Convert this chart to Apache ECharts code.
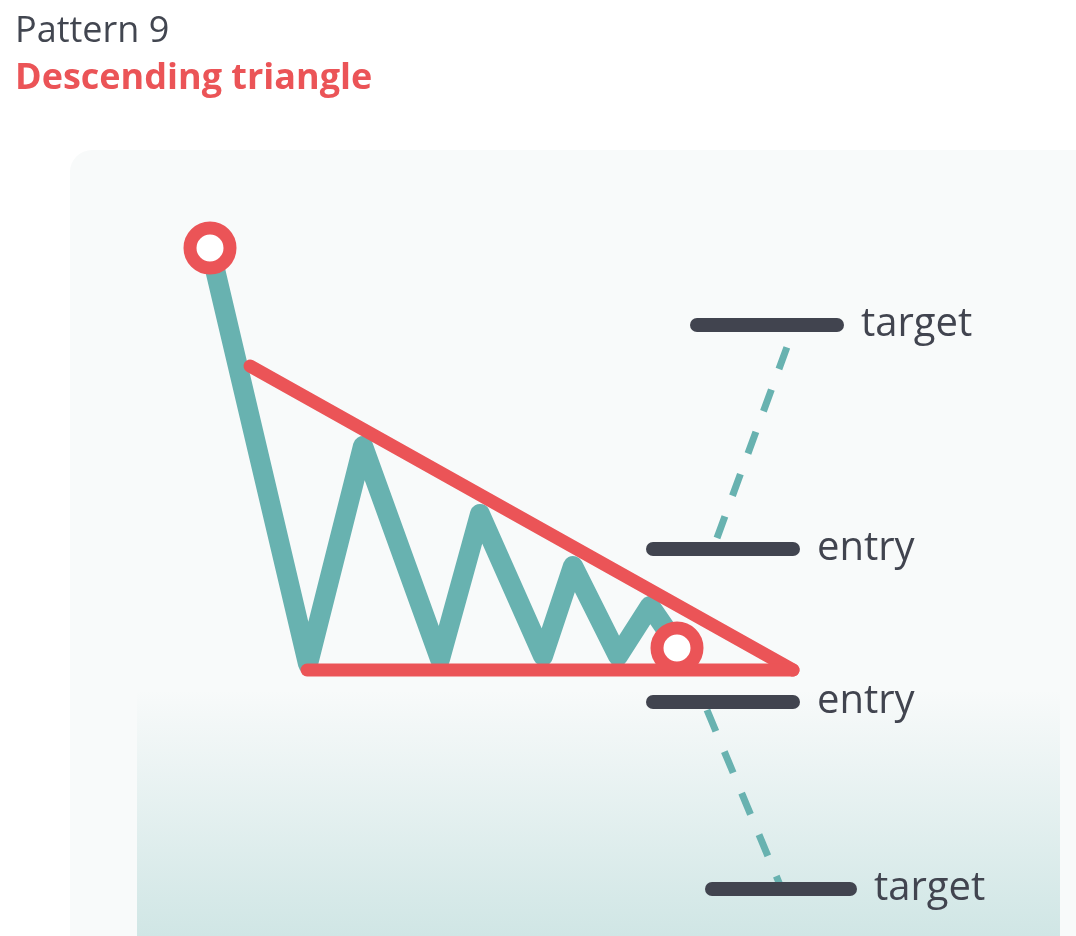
<!DOCTYPE html>
<html>
<head>
<meta charset="utf-8">
<title>Descending triangle</title>
<script src="https://cdn.jsdelivr.net/npm/echarts@6/dist/echarts.min.js"></script>
<style>
  html, body { margin: 0; padding: 0; background: #ffffff; }
  #chart { width: 1076px; height: 936px; }
</style>
</head>
<body>
<div id="chart"></div>
<script>
// Price path (x = bar index, y = price)
const pathX = [14.0, 23.8, 29.3, 37.0, 41.0, 47.3, 50.3, 54.8, 58.0, 60.2];
const pathY = [68.2, 26.6, 48.4, 27.1, 41.6, 27.4, 36.4, 27.4, 32.4, 29.2];

// Trend lines
const resistanceX = [18.0, 72.3];
const resistanceY = [56.4, 26.0];
const supportX = [23.7, 72.3];
const supportY = [26.0, 26.0];

// Marked pivots
const pivotX = [14.0, 60.7];
const pivotY = [68.2, 28.2];

// Entry / target levels
const levelNames = ['target', 'entry', 'entry', 'target'];
const levelStart = [62.7, 58.3, 58.3, 64.2];
const levelEnd = [76.7, 72.3, 72.3, 78.0];
const levelPrice = [60.5, 38.1, 22.8, 4.1];

// Projection moves (dashed)
const upMoveX = [64.7, 71.7];
const upMoveY = [39.2, 58.3];
const downMoveX = [63.7, 71.0];
const downMoveY = [22.0, 4.5];

const zip = (xs, ys) => xs.map((x, i) => [x, ys[i]]);

const chart = echarts.init(document.getElementById('chart'));

const teal = '#68B2B0';
const red = '#EB5457';
const dark = '#41444F';
const font = '"Open Sans", "Noto Sans", sans-serif';

const series = [];

// dashed moves
[[upMoveX, upMoveY], [downMoveX, downMoveY]].forEach(m => {
  series.push({
    type: 'line',
    data: zip(m[0], m[1]),
    symbol: 'none',
    z: 2,
    lineStyle: { color: teal, width: 7, type: [23, 22] }
  });
});

// levels
levelNames.forEach((name, i) => {
  series.push({
    type: 'line',
    name: name,
    data: [[levelStart[i], levelPrice[i]], [levelEnd[i], levelPrice[i]]],
    symbol: 'none',
    z: 3,
    lineStyle: { color: dark, width: 14, cap: 'round' },
    endLabel: {
      show: true,
      formatter: name,
      color: dark,
      fontSize: 40,
      fontWeight: 500,
      fontFamily: font,
      distance: 24
    }
  });
});

// price path
series.push({
  type: 'line',
  data: zip(pathX, pathY),
  symbol: 'none',
  z: 4,
  lineStyle: { color: teal, width: 20, join: 'round', cap: 'round' }
});

// resistance + support
series.push({
  type: 'line',
  data: zip(resistanceX, resistanceY),
  symbol: 'none',
  z: 5,
  lineStyle: { color: red, width: 13, cap: 'round' }
});
series.push({
  type: 'line',
  data: zip(supportX, supportY),
  symbol: 'none',
  z: 5,
  lineStyle: { color: red, width: 13, cap: 'round' }
});

// pivots
series.push({
  type: 'scatter',
  data: zip(pivotX, pivotY),
  symbol: 'circle',
  symbolSize: 40,
  z: 6,
  itemStyle: { color: '#ffffff', borderColor: red, borderWidth: 13, opacity: 1 }
});

const option = {
  animation: false,
  title: [
    {
      text: 'Pattern 9',
      left: 10,
      top: 9,
      textStyle: { color: '#424650', fontSize: 36, fontWeight: 'normal', fontFamily: font }
    },
    {
      text: 'Descending triangle',
      left: 10,
      top: 56,
      textStyle: { color: red, fontSize: 36, fontWeight: 'bold', fontFamily: font }
    }
  ],
  graphic: [
    {
      type: 'rect',
      z: -10,
      shape: { x: 70, y: 150, width: 1100, height: 900, r: 22 },
      style: { fill: '#F8FAFA' }
    },
    {
      type: 'rect',
      z: -9,
      shape: { x: 137, y: 690, width: 923, height: 246 },
      style: {
        fill: new echarts.graphic.LinearGradient(0, 0, 0, 1, [
          { offset: 0, color: 'rgba(208,230,229,0)' },
          { offset: 1, color: '#D0E6E5' }
        ])
      }
    }
  ],
  grid: { left: 70, top: 150, width: 1000, height: 780 },
  xAxis: { type: 'value', min: 0, max: 100, show: false },
  yAxis: { type: 'value', min: 0, max: 78, show: false },
  series: series
};

chart.setOption(option);

window.addEventListener('resize', function () {
  chart.resize();
});
</script>
</body>
</html>
